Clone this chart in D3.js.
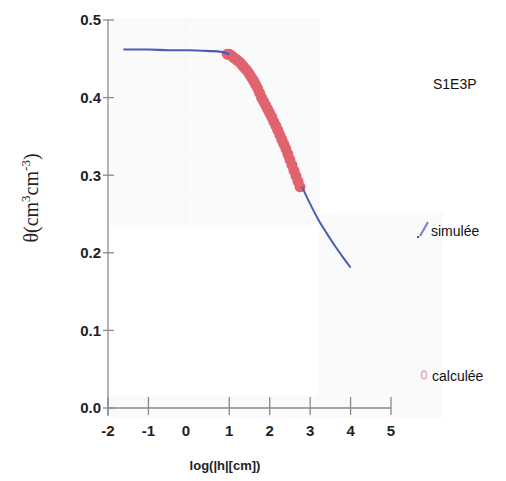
<!DOCTYPE html>
<html><head><meta charset="utf-8">
<script src="https://cdn.jsdelivr.net/npm/d3@7"></script>
<style>body{margin:0;background:#fff}svg{display:block}</style>
</head><body>
<script>
// Data
const xTicks = [-2, -1, 0, 1, 2, 3, 4, 5];
const yTicks = [0.0, 0.1, 0.2, 0.3, 0.4, 0.5];
const simX = [-1.62, -1.0, -0.5, 0.0, 0.5, 0.8, 1.0, 1.2, 1.4, 1.6, 1.8, 2.0, 2.2, 2.4, 2.6, 2.8, 3.0, 3.2, 3.4, 3.6, 3.8, 4.0];
const simY = [0.462, 0.462, 0.461, 0.461, 0.460, 0.459, 0.456, 0.449, 0.441, 0.430, 0.411, 0.389, 0.367, 0.346, 0.318, 0.285, 0.263, 0.243, 0.226, 0.210, 0.195, 0.181];
const calX = [0.95, 1.0, 1.05, 1.1, 1.15, 1.2, 1.25, 1.3, 1.35, 1.4, 1.45, 1.5, 1.55, 1.6, 1.65, 1.7, 1.75, 1.8, 1.85, 1.9, 1.95, 2.0, 2.05, 2.1, 2.15, 2.2, 2.25, 2.3, 2.35, 2.4, 2.45, 2.5, 2.55, 2.6, 2.65, 2.7, 2.75];
const calY = [0.456, 0.456, 0.454, 0.452, 0.450, 0.448, 0.446, 0.443, 0.440, 0.437, 0.434, 0.430, 0.426, 0.422, 0.417, 0.412, 0.406, 0.400, 0.395, 0.390, 0.385, 0.380, 0.375, 0.369, 0.364, 0.358, 0.352, 0.346, 0.340, 0.334, 0.327, 0.320, 0.313, 0.306, 0.299, 0.292, 0.285];
const legendLabels = ["simulée", "calculée"];
const sampleName = "S1E3P";

const W = 506, H = 481;
const svg = d3.select("body").append("svg").attr("width", W).attr("height", H);

const x = d3.scaleLinear().domain([-2, 5]).range([108, 391]);
const y = d3.scaleLinear().domain([0, 0.5]).range([408, 20]);

// faint scanned background panels
const bg = "#fafafa";
svg.append("rect").attr("x", 110).attr("y", 18).attr("width", 210).attr("height", 207).attr("fill", bg);
svg.append("rect").attr("x", 318).attr("y", 213).attr("width", 125).attr("height", 205).attr("fill", bg);
svg.append("rect").attr("x", 108).attr("y", 396).attr("width", 212).attr("height", 22).attr("fill", bg);

// faint dotted vertical line near x=0
svg.append("line").attr("x1", x(0) - 3).attr("x2", x(0) - 3).attr("y1", 20).attr("y2", 225)
  .attr("stroke", "#ececec").attr("stroke-width", 1).attr("stroke-dasharray", "2,3");

// axes
const axisCol = "#8a8a8a";
svg.append("line").attr("x1", x(-2)).attr("x2", x(-2)).attr("y1", y(0.5)).attr("y2", y(0) + 8)
  .attr("stroke", axisCol).attr("stroke-width", 1.3);
svg.append("line").attr("x1", x(-2)).attr("x2", x(5)).attr("y1", y(0)).attr("y2", y(0))
  .attr("stroke", axisCol).attr("stroke-width", 1.3);

// y ticks
yTicks.forEach(t => {
  svg.append("line").attr("x1", x(-2) - 5).attr("x2", x(-2) + 6).attr("y1", y(t)).attr("y2", y(t))
    .attr("stroke", axisCol).attr("stroke-width", 1.3);
  svg.append("text").attr("x", x(-2) - 7).attr("y", y(t)).attr("dy", "0.36em")
    .attr("text-anchor", "end").attr("font-family", "Liberation Sans, Arial, sans-serif")
    .attr("font-size", 15).attr("font-weight", "bold").attr("fill", "#222")
    .text(d3.format(".1f")(t));
});
// x ticks
xTicks.forEach(t => {
  if (t !== 0) {
    svg.append("line").attr("x1", x(t)).attr("x2", x(t)).attr("y1", y(0) - 11).attr("y2", y(0) + 7)
      .attr("stroke", axisCol).attr("stroke-width", 1.3);
  }
  svg.append("text").attr("x", x(t) - (t === 0 ? 3 : 0)).attr("y", y(0) + 28)
    .attr("text-anchor", "middle").attr("font-family", "Liberation Sans, Arial, sans-serif")
    .attr("font-size", 15).attr("font-weight", "bold").attr("fill", "#222")
    .text(t < 0 ? "-" + Math.abs(t) : String(t));
});

// calculated points (red)
svg.append("g").selectAll("circle").data(calX.map((v, i) => [v, calY[i]])).join("circle")
  .attr("cx", d => x(d[0])).attr("cy", d => y(d[1])).attr("r", 5.5)
  .attr("fill", "#e0646e");

// simulated line (blue)
const line = d3.line().x(d => x(d[0])).y(d => y(d[1])).curve(d3.curveMonotoneX);
const simPts = simX.map((v, i) => [v, simY[i]]);
svg.append("path").attr("d", line(simPts.filter(d => d[0] <= 1.0))).attr("fill", "none")
  .attr("stroke", "#4b5db4").attr("stroke-width", 2.2);
svg.append("path").attr("d", line(simPts.filter(d => d[0] >= 2.8))).attr("fill", "none")
  .attr("stroke", "#4b5db4").attr("stroke-width", 2);

// sample name
svg.append("text").attr("x", 433).attr("y", 89).attr("font-family", "Liberation Sans, Arial, sans-serif")
  .attr("font-size", 14).attr("fill", "#111").text(sampleName);

// legend
svg.append("line").attr("x1", 420).attr("y1", 236).attr("x2", 428).attr("y2", 222)
  .attr("stroke", "#7d86d0").attr("stroke-width", 2.2);
svg.append("circle").attr("cx", 418).attr("cy", 237).attr("r", 1).attr("fill", "#222");
svg.append("text").attr("x", 431).attr("y", 236).attr("font-family", "Liberation Sans, Arial, sans-serif")
  .attr("font-size", 14).attr("fill", "#111").text(legendLabels[0]);
svg.append("ellipse").attr("cx", 424).attr("cy", 375).attr("rx", 2.5).attr("ry", 4)
  .attr("fill", "none").attr("stroke", "#eea0a8").attr("stroke-width", 1.3);
svg.append("text").attr("x", 432).attr("y", 381).attr("font-family", "Liberation Sans, Arial, sans-serif")
  .attr("font-size", 14).attr("fill", "#111").text(legendLabels[1]);

// axis titles
svg.append("text").attr("x", 225).attr("y", 470).attr("text-anchor", "middle")
  .attr("font-family", "Liberation Sans, Arial, sans-serif").attr("font-size", 13).attr("font-weight", "bold")
  .attr("fill", "#222").text("log(|h|[cm])");

const yt = svg.append("text").attr("transform", "translate(38,198) rotate(-90)").attr("text-anchor", "middle")
  .attr("font-family", "Liberation Serif, Times New Roman, serif").attr("font-size", 20).attr("fill", "#222");
yt.append("tspan").text("θ(cm");
yt.append("tspan").attr("dy", -8).attr("font-size", 13).text("3");
yt.append("tspan").attr("dy", 8).text("cm");
yt.append("tspan").attr("dy", -8).attr("font-size", 13).text("-3");
yt.append("tspan").attr("dy", 8).text(")");
</script>
</body></html>
